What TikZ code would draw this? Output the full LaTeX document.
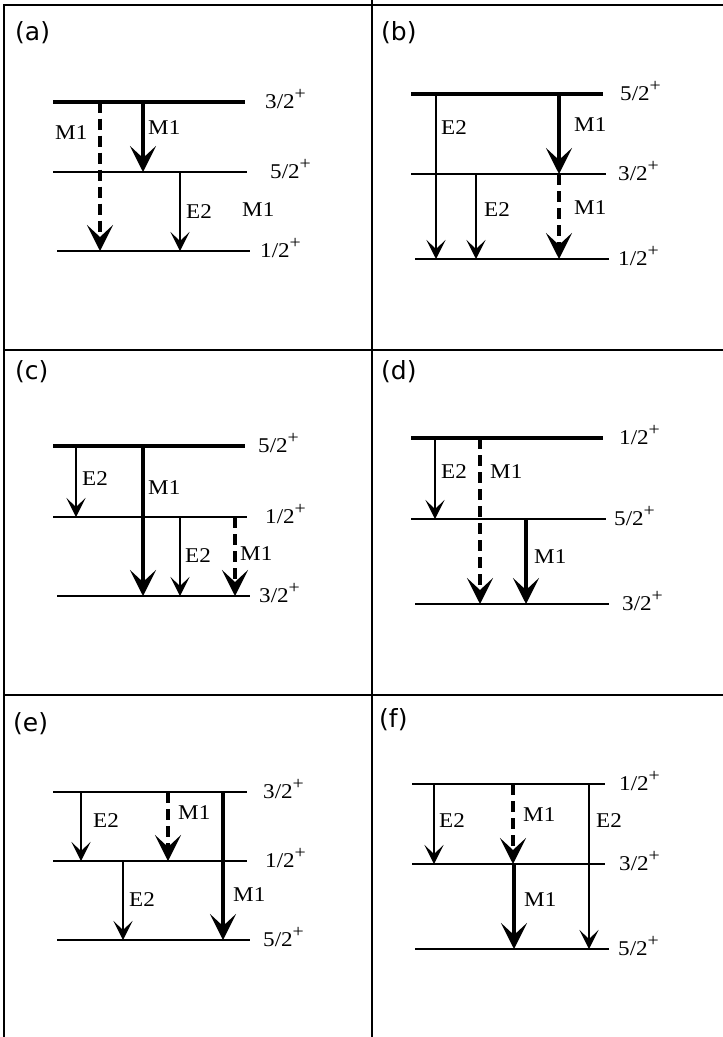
\documentclass[tikz,border=0pt]{standalone}
\usepackage{fontspec}
\setmainfont{Liberation Serif}
\newfontfamily\panelfont{DejaVu Sans}
\usetikzlibrary{arrows.meta}
\newcommand\parity{\raisebox{0.4em}{\fontsize{18}{18}\selectfont +}}

\begin{document}
\begin{tikzpicture}[x=1pt, y=-1pt,
    frame/.style={line width=1.6pt},
    lev/.style={line width=2pt},
    levtop/.style={line width=4pt},
    etwo/.style={line width=1.4pt, -{Stealth[length=19pt, width=19pt, inset=9pt]}},
    mone/.style={line width=3.6pt, -{Stealth[length=26pt, width=26pt, inset=12pt]}},
    monedash/.style={mone, dash pattern=on 11pt off 6pt},
    txt/.style={anchor=west, inner sep=0pt, xscale=1.1, font=\fontsize{21}{24}\selectfont},
    lbl/.style={txt, anchor=base west},
    tag/.style={anchor=west, inner sep=0pt, font=\panelfont\fontsize{25}{30}\selectfont}]
    \useasboundingbox (0,0) rectangle (723,1037);
    \draw[frame] (4,1037) -- (4,5) -- (723,5);
    \draw[frame] (372,0) -- (372,1037);
    \draw[frame] (4,350) -- (723,350);
    \draw[frame] (4,695) -- (723,695);

    \node[tag] (ta) at (15,33) {(a)};
    \coordinate (a1) at (53,101.7);
    \coordinate (a2) at (53,172);
    \coordinate (a3) at (57,251);
    \draw[levtop] (a1) -- ++(192,0);
    \draw[lev] (a2) -- ++(194,0);
    \draw[lev] (a3) -- ++(193,0);
    \node[lbl] (a1l) at (265,108) {3/2\parity};
    \node[lbl] (a2l) at (270,178) {5/2\parity};
    \node[lbl] (a3l) at (260,257) {1/2\parity};
    \draw[monedash] (100,0 |- a1) -- (100,0 |- a3);
    \draw[mone] (143,0 |- a1) -- (143,0 |- a2);
    \draw[etwo] (180,0 |- a2) -- (180,0 |- a3);
    \node[txt] (am1) at (55,133) {M1};
    \node[txt] (am2) at (148,128) {M1};
    \node[txt] (ae1) at (186,212) {E2};
    \node[txt] (am3) at (242,210) {M1};

    \node[tag] (tb) at (381,33) {(b)};
    \coordinate (b1) at (411,94);
    \coordinate (b2) at (411,174);
    \coordinate (b3) at (415,259);
    \draw[levtop] (b1) -- ++(192,0);
    \draw[lev] (b2) -- ++(195,0);
    \draw[lev] (b3) -- ++(194,0);
    \node[lbl] (b1l) at (620,100) {5/2\parity};
    \node[lbl] (b2l) at (618,180) {3/2\parity};
    \node[lbl] (b3l) at (618,265) {1/2\parity};
    \draw[etwo] (436,0 |- b1) -- (436,0 |- b3);
    \draw[etwo] (476,0 |- b2) -- (476,0 |- b3);
    \draw[mone] (559,0 |- b1) -- (559,0 |- b2);
    \draw[monedash] (559,0 |- b2) -- (559,0 |- b3);
    \node[txt] (be1) at (441,128) {E2};
    \node[txt] (be2) at (484,210) {E2};
    \node[txt] (bm1) at (574,125) {M1};
    \node[txt] (bm2) at (574,208) {M1};

    \node[tag] (tc) at (15,372) {(c)};
    \coordinate (c1) at (53,446);
    \coordinate (c2) at (53,517);
    \coordinate (c3) at (57,596);
    \draw[levtop] (c1) -- ++(192,0);
    \draw[lev] (c2) -- ++(194,0);
    \draw[lev] (c3) -- ++(193,0);
    \node[lbl] (c1l) at (258,452) {5/2\parity};
    \node[lbl] (c2l) at (265,523) {1/2\parity};
    \node[lbl] (c3l) at (259,602) {3/2\parity};
    \draw[etwo] (76,0 |- c1) -- (76,0 |- c2);
    \draw[mone] (143,0 |- c1) -- (143,0 |- c3);
    \draw[etwo] (180,0 |- c2) -- (180,0 |- c3);
    \draw[monedash] (235,0 |- c2) -- (235,0 |- c3);
    \node[txt] (ce1) at (82,479) {E2};
    \node[txt] (cm1) at (148,488) {M1};
    \node[txt] (ce2) at (185,556) {E2};
    \node[txt] (cm2) at (240,554) {M1};

    \node[tag] (td) at (381,372) {(d)};
    \coordinate (d1) at (411,438);
    \coordinate (d2) at (411,519);
    \coordinate (d3) at (415,604);
    \draw[levtop] (d1) -- ++(192,0);
    \draw[lev] (d2) -- ++(195,0);
    \draw[lev] (d3) -- ++(194,0);
    \node[lbl] (d1l) at (619,444) {1/2\parity};
    \node[lbl] (d2l) at (614,525) {5/2\parity};
    \node[lbl] (d3l) at (622,610) {3/2\parity};
    \draw[etwo] (435,0 |- d1) -- (435,0 |- d2);
    \draw[monedash] (480,0 |- d1) -- (480,0 |- d3);
    \draw[mone] (526,0 |- d2) -- (526,0 |- d3);
    \node[txt] (de1) at (441,472) {E2};
    \node[txt] (dm1) at (490,472) {M1};
    \node[txt] (dm2) at (534,557) {M1};

    \node[tag] (te) at (13,724) {(e)};
    \coordinate (e1) at (53,792);
    \coordinate (e2) at (53,861);
    \coordinate (e3) at (57,940);
    \draw[lev] (e1) -- ++(194,0);
    \draw[lev] (e2) -- ++(194,0);
    \draw[lev] (e3) -- ++(193,0);
    \node[lbl] (e1l) at (263,798) {3/2\parity};
    \node[lbl] (e2l) at (265,867) {1/2\parity};
    \node[lbl] (e3l) at (263,946) {5/2\parity};
    \draw[etwo] (81,0 |- e1) -- (81,0 |- e2);
    \draw[monedash] (168,0 |- e1) -- (168,0 |- e2);
    \draw[mone] (223,0 |- e1) -- (223,0 |- e3);
    \draw[etwo] (123,0 |- e2) -- (123,0 |- e3);
    \node[txt] (ee1) at (93,821) {E2};
    \node[txt] (em1) at (178,813) {M1};
    \node[txt] (ee2) at (129,900) {E2};
    \node[txt] (em2) at (233,895) {M1};

    \node[tag] (tf) at (379,720) {(f)};
    \coordinate (f1) at (412,784);
    \coordinate (f2) at (412,864);
    \coordinate (f3) at (415,949);
    \draw[lev] (f1) -- ++(193,0);
    \draw[lev] (f2) -- ++(193,0);
    \draw[lev] (f3) -- ++(194,0);
    \node[lbl] (f1l) at (619,790) {1/2\parity};
    \node[lbl] (f2l) at (619,870) {3/2\parity};
    \node[lbl] (f3l) at (618,955) {5/2\parity};
    \draw[etwo] (434,0 |- f1) -- (434,0 |- f2);
    \draw[monedash] (513,0 |- f1) -- (513,0 |- f2);
    \draw[etwo] (589,0 |- f1) -- (589,0 |- f3);
    \draw[mone] (514,0 |- f2) -- (514,0 |- f3);
    \node[txt] (fe1) at (439,821) {E2};
    \node[txt] (fm1) at (523,815) {M1};
    \node[txt] (fe2) at (596,821) {E2};
    \node[txt] (fm2) at (524,900) {M1};
\end{tikzpicture}
\end{document}
